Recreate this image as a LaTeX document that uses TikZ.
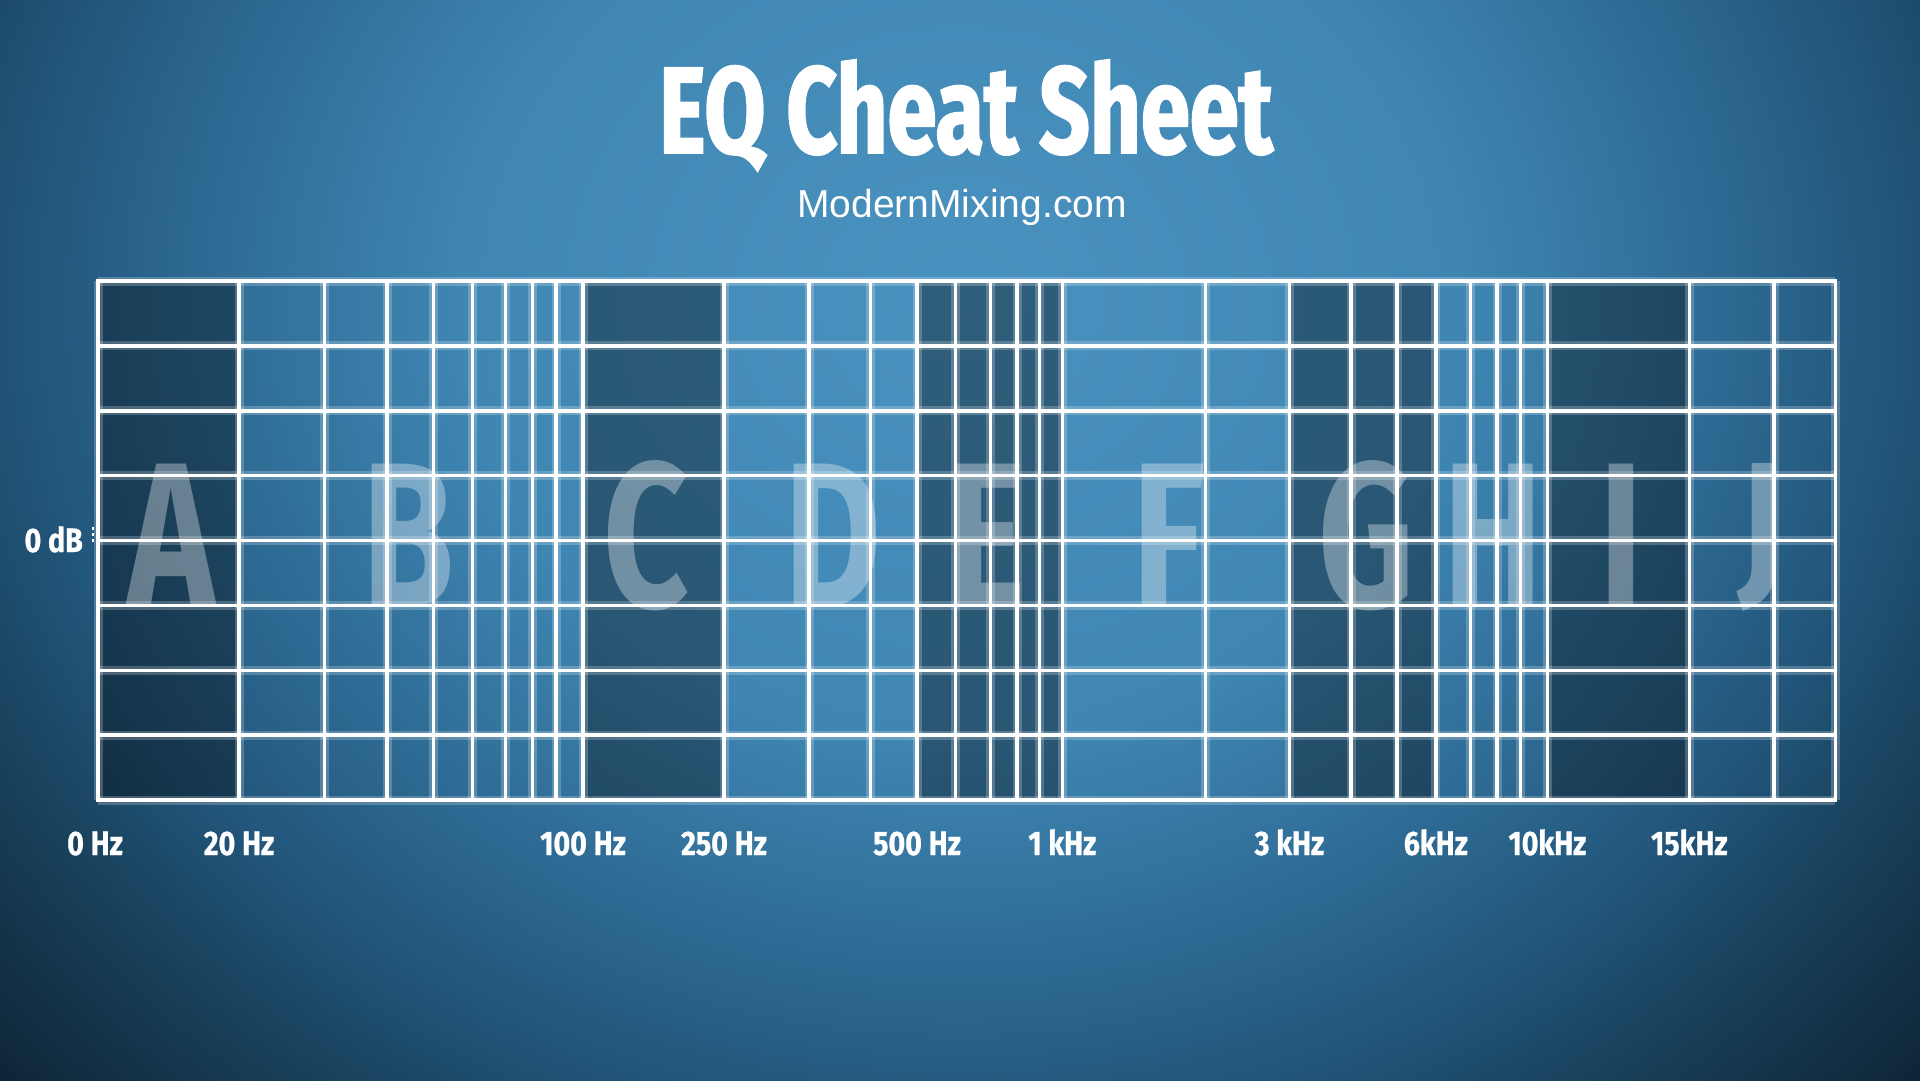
\documentclass[tikz,border=0pt]{standalone}
\usepackage{fontspec}
\setmainfont{Fira Sans}
\newfontfamily\headfont[FakeStretch=0.72, BoldFeatures={FakeBold=1.6}]{Fira Sans}
\newfontfamily\bigfont[FakeStretch=0.72]{Fira Sans}
\newfontfamily\tickfont[FakeStretch=0.84, BoldFeatures={FakeBold=0.8}]{Fira Sans}
\newfontfamily\webfont{Liberation Sans}
\usepackage{xcolor}
\usepackage{tikz}

\definecolor{bgA}{HTML}{4A92BF}
\definecolor{bgB}{HTML}{3F86B3}
\definecolor{bgC}{HTML}{2E6B94}
\definecolor{bgD}{HTML}{22557A}
\definecolor{bgE}{HTML}{1A4460}
\definecolor{bgF}{HTML}{0E2435}
\pgfdeclareradialshading{vignette}{\pgfpoint{0bp}{0bp}}{color(0bp)=(bgA); color(10bp)=(bgB); color(15bp)=(bgC); color(18.75bp)=(bgD); color(21.25bp)=(bgE); color(26.25bp)=(bgF); color(50bp)=(bgF)}

% x positions of the frequency lines, in px of the 1920x1080 page
\newcommand{\freqlines}{98,239,324.5,387,433.5,472.7,505.7,532.7,556,583,724,809,870.6,917,955.7,990.6,1017,1039.6,1062.3,1205.4,1289.4,1351.2,1397.2,1435.8,1470.6,1497,1520.5,1547.4,1689.3,1774,1835.3}

\begin{document}
\begin{tikzpicture}[
  x=1pt, y=-1pt,
  title/.style={anchor=base, inner sep=0pt, text=white,
                font=\headfont\bfseries\fontsize{123}{123}\selectfont},
  site/.style={anchor=base, inner sep=0pt, text=white,
               font=\webfont\fontsize{39}{39}\selectfont},
  band/.style={fill=black, fill opacity=.35},
  letter/.style={anchor=base, inner sep=0pt, text=white, text opacity=.34,
                 font=\bigfont\bfseries\fontsize{207}{207}\selectfont},
  glow/.style={draw=white, draw opacity=.22, line width=9pt},
  gridline/.style={draw=white, line width=3.5pt, line cap=rect},
  freq/.style={anchor=base, inner sep=0pt, text=white,
               font=\tickfont\bfseries\fontsize{34}{34}\selectfont}
]
\useasboundingbox (0,0) rectangle (1920,1080);
\begin{scope}
  \clip (0,0) rectangle (1920,1080);
  \shade[shading=vignette] (-290,-800) rectangle (2210,1400);
\end{scope}

\node[title] (head) at (966,153) {EQ Cheat Sheet};
\node[site] (web) at (962,217) {ModernMixing.com};

% darker bands
\fill[band] (98,281) rectangle (239,800);
\fill[band] (583,281) rectangle (724,800);
\fill[band] (917,281) rectangle (1062.3,800);
\fill[band] (1289.4,281) rectangle (1435.8,800);
\fill[band] (1547.4,281) rectangle (1689.3,800);

\node[letter] (lA) at (171,607) {A};
\node[letter] (lB) at (408,607) {B};
\node[letter] (lC) at (646,607) {C};
\node[letter] (lD) at (833,607) {D};
\node[letter] (lE) at (987,607) {E};
\node[letter] (lF) at (1169,607) {F};
\node[letter] (lG) at (1367,607) {G};
\node[letter] (lH) at (1493,607) {H};
\node[letter] (lI) at (1621,607) {I};
\node[letter, anchor=north] (lJ) at (1762,463) {\scalebox{1}[0.83]{J}};

% grid
\foreach \x in \freqlines
  \draw[glow] (\x,281) -- (\x,800);
\foreach \k in {0,...,8}
  \draw[glow] (98,{281+64.875*\k}) -- (1835.3,{281+64.875*\k});
\foreach \x in \freqlines
  \draw[gridline] (\x,281) -- (\x,800);
\foreach \k in {0,...,8}
  \draw[gridline] (98,{281+64.875*\k}) -- (1835.3,{281+64.875*\k});

\node[freq, anchor=base east] (db) at (83,552) {0 dB};
\draw[white, line width=2.5pt, dash pattern=on 3pt off 3pt] (93,527) -- (93,543);

\node[freq] (f0) at (95,855) {0 Hz};
\node[freq] (f20) at (239,855) {20 Hz};
\node[freq] (f100) at (583,855) {100 Hz};
\node[freq] (f250) at (724,855) {250 Hz};
\node[freq] (f500) at (917,855) {500 Hz};
\node[freq] (f1k) at (1062.3,855) {1 kHz};
\node[freq] (f3k) at (1289.4,855) {3 kHz};
\node[freq] (f6k) at (1435.8,855) {6kHz};
\node[freq] (f10k) at (1547.4,855) {10kHz};
\node[freq] (f15k) at (1689.3,855) {15kHz};
\end{tikzpicture}
\end{document}
